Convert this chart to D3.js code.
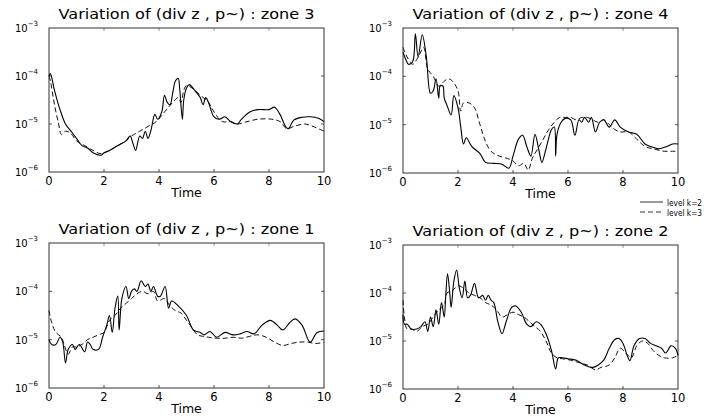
<!DOCTYPE html>
<html>
<head>
<meta charset="utf-8">
<script src="https://cdn.jsdelivr.net/npm/d3@7"></script>
<style>
  body { margin: 0; background: #fff; }
  svg { display: block; font-family: "DejaVu Sans", "Liberation Sans", Arial, sans-serif; }
</style>
</head>
<body>
<svg id="chart" width="716" height="420"></svg>
<script>
// time axis ticks and log axis decades
const timeTicks = [0, 2, 4, 6, 8, 10]
const decadeTicks = [-3, -4, -5, -6]

// series as [time, log10(value)]
const zone3K2 = [[0,-4.0],[0.05,-3.95],[0.2,-4.3],[0.4,-4.7],[0.6,-5.0],[0.8,-5.15],[1.0,-5.3],[1.2,-5.45],[1.4,-5.5],[1.6,-5.6],[1.9,-5.65],[2.0,-5.6],[2.2,-5.55],[2.5,-5.45],[2.8,-5.35],[2.95,-5.25],[3.05,-5.4],[3.15,-5.55],[3.3,-5.25],[3.4,-5.3],[3.5,-5.15],[3.6,-5.3],[3.7,-5.15],[3.85,-4.8],[3.95,-4.9],[4.1,-4.75],[4.2,-4.4],[4.3,-4.55],[4.4,-4.6],[4.5,-4.35],[4.6,-4.1],[4.7,-4.05],[4.75,-4.25],[4.85,-4.9],[4.9,-4.5],[5.0,-4.25],[5.1,-4.18],[5.3,-4.3],[5.5,-4.45],[5.6,-4.6],[5.7,-4.45],[5.8,-4.55],[6.0,-4.85],[6.2,-4.9],[6.4,-4.85],[6.6,-4.95],[6.85,-5.0],[7.0,-4.9],[7.3,-4.75],[7.6,-4.7],[8.0,-4.7],[8.2,-4.65],[8.4,-4.8],[8.6,-5.05],[8.7,-5.1],[8.9,-4.92],[9.2,-4.86],[9.5,-4.85],[9.8,-4.88],[10,-4.95]]
const zone3K3 = [[0,-4.0],[0.05,-4.1],[0.2,-4.6],[0.35,-5.0],[0.45,-5.22],[0.6,-5.15],[0.8,-5.2],[1.0,-5.35],[1.3,-5.45],[1.6,-5.55],[1.9,-5.62],[2.2,-5.55],[2.5,-5.45],[2.8,-5.35],[3.0,-5.25],[3.3,-5.15],[3.6,-5.05],[3.9,-4.95],[4.2,-4.75],[4.5,-4.55],[4.7,-4.45],[4.8,-4.55],[4.9,-4.3],[5.0,-4.2],[5.2,-4.25],[5.5,-4.4],[5.8,-4.55],[6.0,-4.75],[6.3,-4.95],[6.6,-4.95],[6.85,-5.0],[7.2,-4.95],[7.6,-4.9],[8.1,-4.9],[8.4,-4.95],[8.65,-5.1],[8.9,-5.05],[9.3,-5.0],[9.6,-5.05],[10,-5.15]]

const zone4K2 = [[0,-3.5],[0.1,-3.65],[0.2,-3.75],[0.35,-3.7],[0.45,-3.12],[0.55,-3.6],[0.7,-3.14],[0.85,-3.6],[1.0,-4.35],[1.1,-4.3],[1.2,-4.05],[1.3,-4.45],[1.35,-4.2],[1.45,-4.2],[1.5,-4.45],[1.6,-4.6],[1.75,-4.8],[1.85,-4.4],[2.0,-4.65],[2.1,-5.05],[2.2,-5.4],[2.3,-5.27],[2.5,-5.45],[2.8,-5.6],[3.0,-5.78],[3.3,-5.8],[3.6,-5.82],[3.85,-5.9],[4.0,-5.65],[4.2,-5.3],[4.35,-5.22],[4.5,-5.45],[4.65,-5.65],[4.8,-5.2],[4.95,-5.55],[5.05,-5.78],[5.2,-5.5],[5.4,-5.1],[5.5,-5.05],[5.55,-5.65],[5.6,-5.2],[5.75,-4.95],[5.9,-4.87],[6.1,-4.9],[6.25,-5.22],[6.4,-4.9],[6.5,-4.95],[6.6,-4.85],[6.75,-4.95],[6.85,-4.85],[7.0,-5.15],[7.15,-4.95],[7.3,-4.9],[7.5,-5.05],[7.7,-4.9],[7.9,-5.05],[8.2,-5.15],[8.5,-5.2],[8.8,-5.4],[9.0,-5.45],[9.3,-5.5],[9.6,-5.45],[9.8,-5.4],[10,-5.4]]
const zone4K3 = [[0,-3.4],[0.15,-3.6],[0.35,-3.75],[0.5,-3.65],[0.6,-3.55],[0.75,-3.4],[0.9,-3.85],[1.1,-4.0],[1.3,-4.2],[1.5,-4.1],[1.65,-4.05],[1.8,-4.1],[2.0,-4.3],[2.1,-4.72],[2.2,-4.55],[2.4,-4.55],[2.6,-4.65],[2.8,-5.0],[3.0,-5.35],[3.2,-5.55],[3.5,-5.65],[3.8,-5.7],[4.0,-5.75],[4.2,-5.85],[4.4,-5.8],[4.55,-5.94],[4.7,-5.7],[4.9,-5.5],[5.1,-5.3],[5.3,-5.1],[5.5,-4.95],[5.7,-4.85],[5.9,-4.85],[6.1,-4.85],[6.3,-4.9],[6.5,-4.85],[6.7,-4.85],[6.9,-4.9],[7.1,-4.95],[7.3,-4.9],[7.5,-5.0],[7.7,-5.1],[7.9,-5.15],[8.2,-5.15],[8.5,-5.3],[8.8,-5.45],[9.1,-5.5],[9.5,-5.55],[9.8,-5.55],[10,-5.55]]

const zone1K2 = [[0,-5.0],[0.1,-5.1],[0.25,-5.1],[0.4,-4.95],[0.5,-5.05],[0.6,-5.48],[0.7,-5.2],[0.85,-5.1],[0.95,-5.2],[1.1,-5.1],[1.3,-5.25],[1.4,-5.05],[1.5,-5.1],[1.6,-5.2],[1.8,-5.2],[1.95,-4.95],[2.1,-4.7],[2.2,-4.5],[2.3,-4.85],[2.4,-4.35],[2.5,-4.1],[2.55,-4.8],[2.65,-4.15],[2.8,-3.9],[2.9,-4.15],[3.0,-4.0],[3.1,-3.95],[3.2,-4.0],[3.35,-3.78],[3.5,-3.9],[3.6,-3.85],[3.7,-4.0],[3.8,-3.9],[3.95,-4.1],[4.05,-4.1],[4.22,-3.9],[4.35,-4.35],[4.46,-4.2],[4.7,-4.3],[5.0,-4.5],[5.25,-4.8],[5.5,-4.85],[5.65,-4.9],[5.85,-4.83],[6.1,-4.95],[6.4,-4.85],[6.7,-4.9],[6.95,-4.88],[7.2,-4.83],[7.45,-4.88],[7.75,-4.7],[8.05,-4.6],[8.3,-4.7],[8.5,-4.8],[8.75,-4.65],[8.95,-4.57],[9.2,-4.7],[9.5,-5.05],[9.75,-4.85],[10,-4.82]]
const zone1K3 = [[0,-4.4],[0.1,-4.65],[0.25,-4.85],[0.45,-4.95],[0.55,-5.1],[0.7,-5.3],[0.85,-5.15],[1.0,-5.15],[1.2,-5.1],[1.4,-5.0],[1.6,-4.95],[1.8,-4.9],[2.0,-4.85],[2.2,-4.6],[2.4,-4.5],[2.6,-4.35],[2.8,-4.25],[3.0,-4.15],[3.2,-4.05],[3.4,-4.0],[3.6,-4.05],[3.8,-4.0],[3.95,-4.2],[4.2,-4.15],[4.4,-4.3],[4.6,-4.4],[4.8,-4.45],[5.0,-4.6],[5.2,-4.75],[5.4,-4.9],[5.6,-4.93],[5.8,-4.95],[6.1,-4.97],[6.4,-4.97],[6.7,-4.95],[7.0,-4.97],[7.3,-4.93],[7.6,-4.9],[7.9,-4.95],[8.2,-5.05],[8.5,-5.12],[8.8,-5.08],[9.1,-5.05],[9.4,-5.05],[9.7,-5.08],[10,-5.05]]

const zone2K2 = [[0,-4.45],[0.05,-4.65],[0.15,-4.65],[0.3,-4.75],[0.5,-4.75],[0.65,-4.7],[0.8,-4.6],[0.9,-4.8],[1.0,-4.5],[1.1,-4.7],[1.2,-4.35],[1.3,-4.65],[1.4,-4.2],[1.5,-4.5],[1.55,-4.1],[1.62,-3.6],[1.7,-4.0],[1.75,-4.3],[1.85,-3.75],[1.95,-3.52],[2.05,-3.9],[2.15,-4.1],[2.25,-3.75],[2.35,-4.1],[2.45,-4.05],[2.6,-3.8],[2.75,-4.1],[2.9,-4.05],[3.0,-4.15],[3.1,-4.05],[3.2,-4.15],[3.3,-4.2],[3.45,-4.6],[3.6,-4.85],[3.75,-4.6],[3.95,-4.3],[4.1,-4.27],[4.3,-4.4],[4.5,-4.65],[4.65,-4.7],[4.85,-4.6],[5.0,-4.65],[5.2,-4.85],[5.4,-5.2],[5.55,-5.58],[5.65,-5.35],[5.8,-5.35],[6.0,-5.37],[6.3,-5.4],[6.6,-5.5],[6.9,-5.55],[7.1,-5.5],[7.3,-5.4],[7.5,-5.15],[7.7,-4.97],[7.85,-4.95],[8.0,-5.05],[8.15,-5.3],[8.25,-5.41],[8.4,-5.1],[8.6,-4.95],[8.8,-4.95],[9.0,-5.05],[9.2,-5.1],[9.4,-5.15],[9.55,-5.25],[9.75,-5.1],[9.9,-5.15],[10,-5.3]]
const zone2K3 = [[0,-4.15],[0.05,-4.5],[0.15,-4.75],[0.3,-4.75],[0.5,-4.8],[0.7,-4.7],[0.9,-4.65],[1.1,-4.5],[1.3,-4.35],[1.5,-4.25],[1.6,-4.0],[1.8,-3.95],[2.0,-3.85],[2.2,-3.9],[2.4,-4.0],[2.6,-4.05],[2.8,-4.1],[3.0,-4.2],[3.2,-4.25],[3.4,-4.35],[3.6,-4.5],[3.8,-4.45],[4.0,-4.4],[4.2,-4.45],[4.4,-4.5],[4.6,-4.6],[4.8,-4.7],[5.0,-4.8],[5.2,-5.0],[5.4,-5.25],[5.6,-5.35],[5.8,-5.37],[6.1,-5.4],[6.4,-5.45],[6.7,-5.5],[7.0,-5.6],[7.2,-5.55],[7.5,-5.5],[7.7,-5.35],[7.9,-5.15],[8.1,-5.25],[8.3,-5.35],[8.5,-5.1],[8.7,-5.0],[8.9,-5.05],[9.1,-5.2],[9.3,-5.3],[9.5,-5.35],[9.8,-5.35],[10,-5.3]]

const panels = [
  { zone: 3, left: 49, top: 28, right: 324, bottom: 172, k2: zone3K2, k3: zone3K3 },
  { zone: 4, left: 403, top: 28, right: 678, bottom: 173, k2: zone4K2, k3: zone4K3 },
  { zone: 1, left: 49, top: 243, right: 324, bottom: 388, k2: zone1K2, k3: zone1K3 },
  { zone: 2, left: 403, top: 245, right: 678, bottom: 389, k2: zone2K2, k3: zone2K3 },
]

const svg = d3.select('#chart')

panels.forEach((p) => {
  const x = d3.scaleLinear().domain([0, 10]).range([p.left, p.right])
  const y = d3.scaleLog().domain([1e-6, 1e-3]).range([p.bottom, p.top])
  const g = svg.append('g')

  // title
  g.append('text')
    .attr('x', (p.left + p.right) / 2)
    .attr('y', p.top - 9)
    .attr('text-anchor', 'middle')
    .attr('textLength', 256)
    .attr('lengthAdjust', 'spacingAndGlyphs')
    .style('font-size', '14px')
    .text(`Variation of (div z , p~) : zone ${p.zone}`)

  // inward ticks on all four sides
  const tickLen = 3
  g.append('g').selectAll('line')
    .data(timeTicks.slice(1, -1))
    .join('line')
    .attr('x1', (d) => x(d)).attr('x2', (d) => x(d))
    .attr('y1', p.bottom).attr('y2', p.bottom - tickLen)
    .attr('stroke', '#555')
  g.append('g').selectAll('line')
    .data(timeTicks.slice(1, -1))
    .join('line')
    .attr('x1', (d) => x(d)).attr('x2', (d) => x(d))
    .attr('y1', p.top).attr('y2', p.top + tickLen)
    .attr('stroke', '#999')
  g.append('g').selectAll('line')
    .data(decadeTicks.slice(1, -1))
    .join('line')
    .attr('x1', p.left).attr('x2', p.left + tickLen)
    .attr('y1', (d) => y(10 ** d)).attr('y2', (d) => y(10 ** d))
    .attr('stroke', '#555')
  g.append('g').selectAll('line')
    .data(decadeTicks.slice(1, -1))
    .join('line')
    .attr('x1', p.right).attr('x2', p.right - tickLen)
    .attr('y1', (d) => y(10 ** d)).attr('y2', (d) => y(10 ** d))
    .attr('stroke', '#555')

  // frame
  g.append('rect')
    .attr('x', p.left).attr('y', p.top)
    .attr('width', p.right - p.left).attr('height', p.bottom - p.top)
    .attr('fill', 'none').attr('stroke', '#333').attr('stroke-width', 1)

  // x tick labels
  g.append('g').selectAll('text')
    .data(timeTicks)
    .join('text')
    .attr('x', (d) => x(d))
    .attr('y', p.bottom + 13)
    .attr('text-anchor', 'middle')
    .style('font-size', '11.5px')
    .text((d) => d)

  g.append('text')
    .attr('x', (p.left + p.right) / 2)
    .attr('y', p.bottom + 25)
    .attr('text-anchor', 'middle')
    .style('font-size', '12.5px')
    .text('Time')

  // y tick labels 10^n
  const yl = g.append('g').selectAll('text')
    .data(decadeTicks)
    .join('text')
    .attr('x', p.left - 11)
    .attr('y', (d) => y(10 ** d) + 4)
    .attr('text-anchor', 'end')
    .style('font-size', '10px')
  yl.append('tspan').text('10')
  yl.append('tspan')
    .attr('dy', -6)
    .style('font-size', '7px')
    .text((d) => '\u2212' + Math.abs(d))

  // lines
  const line = d3.line()
    .x((d) => x(d[0]))
    .y((d) => y(10 ** d[1]))
    .curve(d3.curveCatmullRom.alpha(0.5))

  g.append('path')
    .datum(p.k3)
    .attr('d', line)
    .attr('fill', 'none')
    .attr('stroke', '#111')
    .attr('stroke-width', 1)
    .attr('stroke-dasharray', '5,3')

  g.append('path')
    .datum(p.k2)
    .attr('d', line)
    .attr('fill', 'none')
    .attr('stroke', '#000')
    .attr('stroke-width', 1.1)
})

// legend
const legendItems = [
  { label: 'level k=2', dash: null },
  { label: 'level k=3', dash: '5,3' },
]
const legend = svg.append('g').selectAll('g')
  .data(legendItems)
  .join('g')
  .attr('transform', (d, i) => `translate(640,${202 + i * 10})`)
legend.append('line')
  .attr('x1', 0).attr('x2', 23)
  .attr('stroke', '#000')
  .attr('stroke-width', 0.8)
  .attr('stroke-dasharray', (d) => d.dash)
legend.append('text')
  .attr('x', 27)
  .attr('y', 3.5)
  .attr('textLength', 35)
  .attr('lengthAdjust', 'spacingAndGlyphs')
  .style('font-size', '9px')
  .text((d) => d.label)
</script>
</body>
</html>
